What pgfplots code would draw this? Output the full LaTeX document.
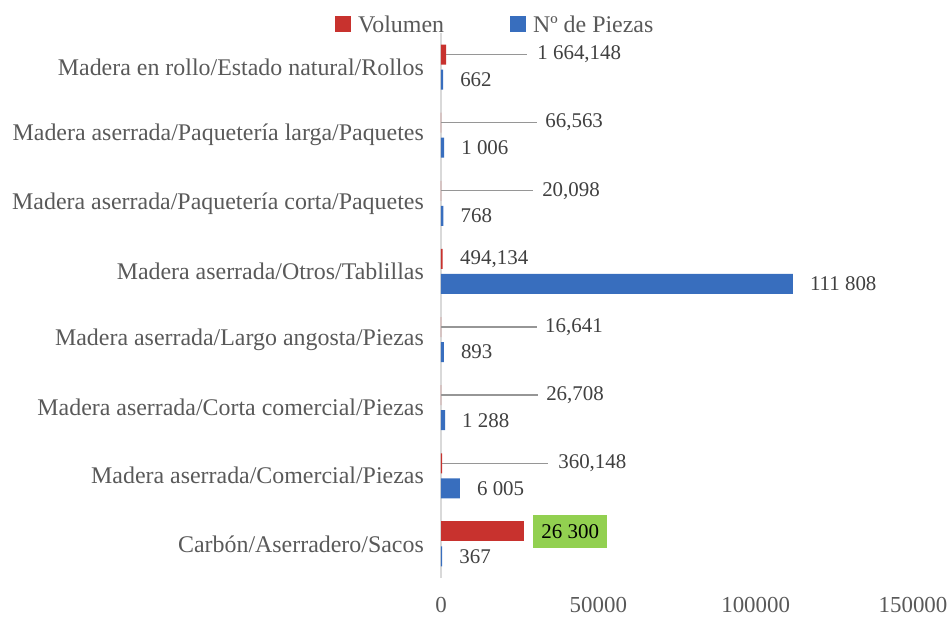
\documentclass[border=0pt]{standalone}
\usepackage{fontspec}
\setmainfont{Liberation Serif}
\usepackage{pgfplots}
\pgfplotsset{compat=1.18}
\usepackage{pgfplotstable}
\definecolor{cRed}{RGB}{200,50,46}
\definecolor{cBlue}{RGB}{56,110,190}
\definecolor{cGreen}{RGB}{146,208,80}
\definecolor{labgray}{RGB}{89,89,89}
\definecolor{valgray}{RGB}{64,64,64}
\definecolor{leadgray}{RGB}{150,150,150}
\definecolor{axgray}{RGB}{217,217,217}

\pgfplotsset{sqlegend/.style={legend image code/.code={\path[##1] (0bp,-7.5bp) rectangle (16bp,8.5bp);}}}

\pgfplotstableread[col sep=semicolon]{
y;v;lab;off
8.184;1664.148;1 664,148;91
7.184;66.563;66,563;104
6.184;20.098;20,098;101
5.184;494.134;494,134;17.5
4.184;16.641;16,641;104
3.184;26.708;26,708;105
2.184;360.148;360,148;116
}\volA

\pgfplotstableread[col sep=semicolon]{
y;v;lab
7.816;662;662
6.816;1006;1 006
5.816;768;768
4.816;111808;111 808
3.816;893;893
2.816;1288;1 288
1.816;6005;6 005
0.816;367;367
}\pzC

\begin{document}
\begin{tikzpicture}
\begin{axis}[
  scale only axis, width=472bp, height=545bp,
  xmin=0, xmax=150000, ymin=0.5, ymax=8.5,
  clip=false,
  axis x line*=bottom, axis y line*=left,
  x axis line style={draw=none},
  y axis line style={draw=axgray, line width=1.5bp, -},
  xtick={0,50000,100000,150000},
  xticklabels={0,50000,100000,150000},
  ytick={1,2,3,4,5,6,7,8},
  yticklabels={Carbón/Aserradero/Sacos,
    Madera aserrada/Comercial/Piezas,
    Madera aserrada/Corta comercial/Piezas,
    Madera aserrada/Largo angosta/Piezas,
    Madera aserrada/Otros/Tablillas,
    Madera aserrada/Paquetería corta/Paquetes,
    Madera aserrada/Paquetería larga/Paquetes,
    Madera en rollo/Estado natural/Rollos},
  major tick length=0pt,
  tick style={draw=none},
  xticklabel style={font=\fontsize{23}{27}\selectfont, text=labgray, inner sep=0pt, anchor=north, yshift=-19bp},
  yticklabel style={font=\fontsize{24}{28}\selectfont, text=labgray, inner sep=0pt, anchor=east, xshift=-17bp},
  legend columns=2,
  legend style={at={(axis description cs:-0.2246,1.0147)}, anchor=west, draw=none, fill=none, inner sep=0pt,
    font=\fontsize{24}{28}\selectfont, text=labgray,
    /tikz/every odd column/.append style={column sep=5bp},
    /tikz/every even column/.append style={column sep=64bp}},
]
\coordinate (O) at (axis cs:0,0.5);

\addplot[xbar, bar width=0.294, bar shift=0pt, fill=cRed, draw=none, sqlegend,
  point meta=explicit symbolic, nodes near coords,
  visualization depends on={\thisrow{off} \as \myoff},
  every node near coord/.append style={anchor=west, inner sep=0pt, xshift=\myoff bp,
    font=\fontsize{21}{25}\selectfont, text=valgray}]
  table[x=v, y=y, meta=lab] {\volA};
\addlegendentry{Volumen}

\addplot[xbar, bar width=0.294, bar shift=0pt, fill=cBlue, draw=none, sqlegend,
  point meta=explicit symbolic, nodes near coords,
  every node near coord/.append style={anchor=west, inner sep=0pt, xshift=17bp,
    font=\fontsize{21}{25}\selectfont, text=valgray}]
  table[x=v, y=y, meta=lab] {\pzC};
\addlegendentry{Nº de Piezas}

\addplot[xbar, bar width=0.294, bar shift=0pt, fill=cRed, draw=none, forget plot,
  point meta=explicit symbolic, nodes near coords,
  every node near coord/.append style={anchor=west, fill=cGreen, inner xsep=8bp, inner ysep=9.5bp,
    xshift=9.5bp, font=\fontsize{21}{25}\selectfont, text=black}]
  coordinates {(26300,1.184) [26 300]};

\draw[leadgray, line width=1.4bp] (axis cs:1664.148,8.184) -- (axis cs:27331,8.184);
\draw[leadgray, line width=1.4bp] (axis cs:66.563,7.184) -- (axis cs:30509,7.184);
\draw[leadgray, line width=1.4bp] (axis cs:20.098,6.184) -- (axis cs:29237,6.184);
\draw[leadgray, line width=1.4bp] (axis cs:16.641,4.184) -- (axis cs:30509,4.184);
\draw[leadgray, line width=1.4bp] (axis cs:26.708,3.184) -- (axis cs:30827,3.184);
\draw[leadgray, line width=1.4bp] (axis cs:360.148,2.184) -- (axis cs:34005,2.184);
\end{axis}
\pgfresetboundingbox
\path ([shift={(-441bp,-40bp)}]O) rectangle ([shift={(511bp,578bp)}]O);
\end{tikzpicture}
\end{document}
